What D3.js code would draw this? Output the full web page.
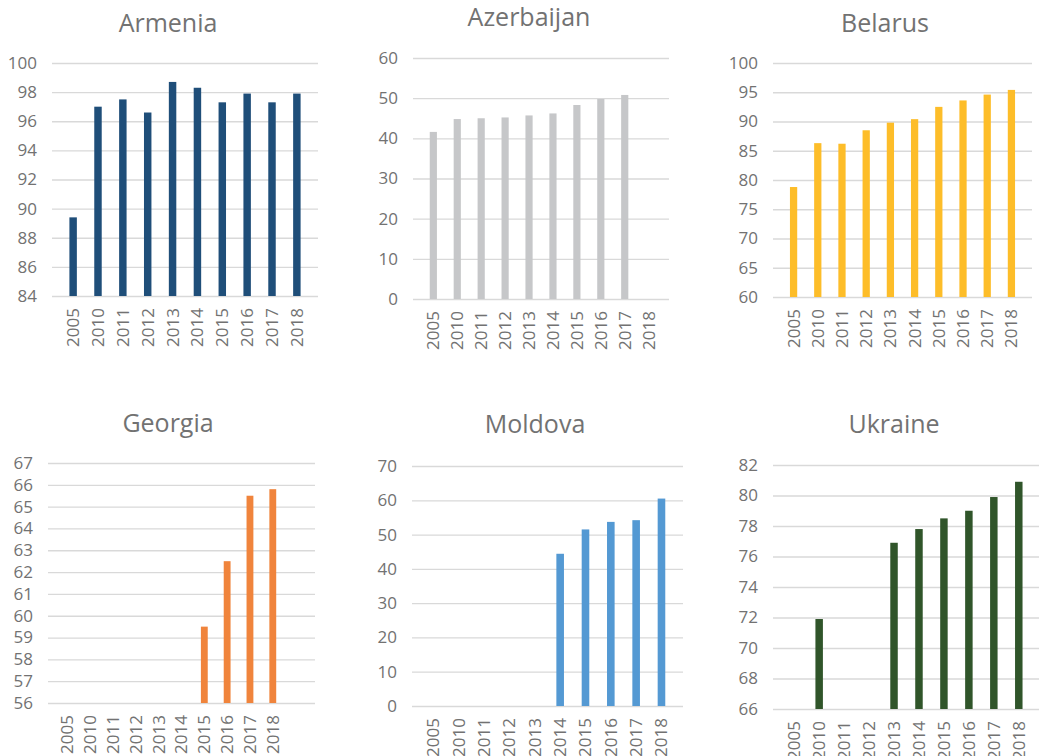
<!DOCTYPE html>
<html>
<head>
<meta charset="utf-8">
<script src="https://cdn.jsdelivr.net/npm/d3@7"></script>
<style>
  body { margin: 0; background: #fff; }
  svg { display: block; font-family: "Open Sans", sans-serif; }
</style>
</head>
<body>
<svg id="chart" width="1039" height="756"></svg>
<script>
// years shown on every x axis
const years = ["2005", "2010", "2011", "2012", "2013", "2014", "2015", "2016", "2017", "2018"];
// Georgia's chart has one extra empty category at the end
const yearsGeorgia = [...years, ""];

// values (null = no bar)
const armenia = [89.4, 97.0, 97.5, 96.6, 98.7, 98.3, 97.3, 97.9, 97.3, 97.9];
const azerbaijan = [41.6, 44.8, 45.0, 45.2, 45.7, 46.2, 48.3, 49.8, 50.8, null];
const belarus = [78.8, 86.3, 86.2, 88.5, 89.8, 90.4, 92.5, 93.6, 94.6, 95.4];
const georgia = [null, null, null, null, null, null, 59.5, 62.5, 65.5, 65.8, null];
const moldova = [null, null, null, null, null, 44.4, 51.5, 53.7, 54.2, 60.5];
const ukraine = [null, 71.9, null, null, 76.9, 77.8, 78.5, 79.0, 79.9, 80.9];

// y axis ranges [min, max, step]
const armeniaAxis = [84, 100, 2];
const azerbaijanAxis = [0, 60, 10];
const belarusAxis = [60, 100, 5];
const georgiaAxis = [56, 67, 1];
const moldovaAxis = [0, 70, 10];
const ukraineAxis = [66, 82, 2];

const TICK_FONT = 17;
const TITLE_FONT = 25;
const TEXT_COLOR = "#727272";

class BarPanel {
    constructor(svg, title, cats, values, axis, color, box, titlePos) {
        this.svg = svg;
        this.title = title;
        this.cats = cats;
        this.values = values;
        this.axis = axis;
        this.color = color;
        this.box = box;          // {x0, x1, y0, y1}
        this.titlePos = titlePos; // [x, y]
    }

    draw() {
        const b = this.box;
        const g = this.svg.append("g");

        const xScale = d3.scaleBand().domain(this.cats).range([b.x0, b.x1]).padding(0.7);
        const yScale = d3.scaleLinear().domain([this.axis[0], this.axis[1]]).range([b.y1, b.y0]);
        const ticks = d3.range(this.axis[0], this.axis[1] + this.axis[2] / 2, this.axis[2]);

        // gridlines + y labels
        const yAxis = g.append("g")
            .attr("transform", `translate(${b.x0},0)`)
            .call(d3.axisLeft(yScale).tickValues(ticks).tickSize(-(b.x1 - b.x0)).tickPadding(15).tickFormat(d3.format("d")));
        yAxis.select(".domain").remove();
        yAxis.selectAll("line").attr("stroke", "#d9d9d9").attr("stroke-width", 1.3);
        yAxis.selectAll("text")
            .style("fill", TEXT_COLOR)
            .style("font-size", TICK_FONT + "px")
            .style("font-family", "Open Sans");

        const data = this.cats.map((c, i) => ({ cat: c, v: this.values[i] }))
            .filter(d => d.v != null);

        g.append("g").selectAll("rect")
            .data(data)
            .join("rect")
            .attr("x", d => xScale(d.cat))
            .attr("y", d => yScale(d.v))
            .attr("width", xScale.bandwidth())
            .attr("height", d => b.y1 - yScale(d.v))
            .attr("fill", this.color);

        // x labels, rotated
        const xAxis = g.append("g")
            .attr("transform", `translate(0,${b.y1})`)
            .call(d3.axisBottom(xScale).tickSize(0).tickPadding(0));
        xAxis.select(".domain").remove();
        xAxis.selectAll("text")
            .style("fill", TEXT_COLOR)
            .style("font-size", TICK_FONT + "px")
            .style("font-family", "Open Sans")
            .attr("text-anchor", "end")
            .attr("transform", "rotate(-90)")
            .attr("x", -12)
            .attr("y", 0)
            .attr("dy", "0.35em");

        g.append("text")
            .attr("x", this.titlePos[0])
            .attr("y", this.titlePos[1])
            .attr("text-anchor", "middle")
            .style("fill", TEXT_COLOR)
            .style("font-size", TITLE_FONT + "px")
            .text(this.title);
    }
}

const svg = d3.select("#chart");

new BarPanel(svg, "Armenia", years, armenia, armeniaAxis, "#1f4e79",
    { x0: 52, x1: 318, y0: 63, y1: 296 }, [168, 32]).draw();
new BarPanel(svg, "Azerbaijan", years, azerbaijan, azerbaijanAxis, "#c6c7c9",
    { x0: 413, x1: 669, y0: 58, y1: 299 }, [529, 26]).draw();
new BarPanel(svg, "Belarus", years, belarus, belarusAxis, "#fdbd29",
    { x0: 773, x1: 1032, y0: 63, y1: 297 }, [885, 32]).draw();
new BarPanel(svg, "Georgia", yearsGeorgia, georgia, georgiaAxis, "#f0843c",
    { x0: 48, x1: 315, y0: 463, y1: 703 }, [168, 432]).draw();
new BarPanel(svg, "Moldova", years, moldova, moldovaAxis, "#5499d3",
    { x0: 412, x1: 683, y0: 466, y1: 706 }, [535, 433]).draw();
new BarPanel(svg, "Ukraine", years, ukraine, ukraineAxis, "#30552a",
    { x0: 773, x1: 1040, y0: 465, y1: 709 }, [894, 433]).draw();
</script>
</body>
</html>
